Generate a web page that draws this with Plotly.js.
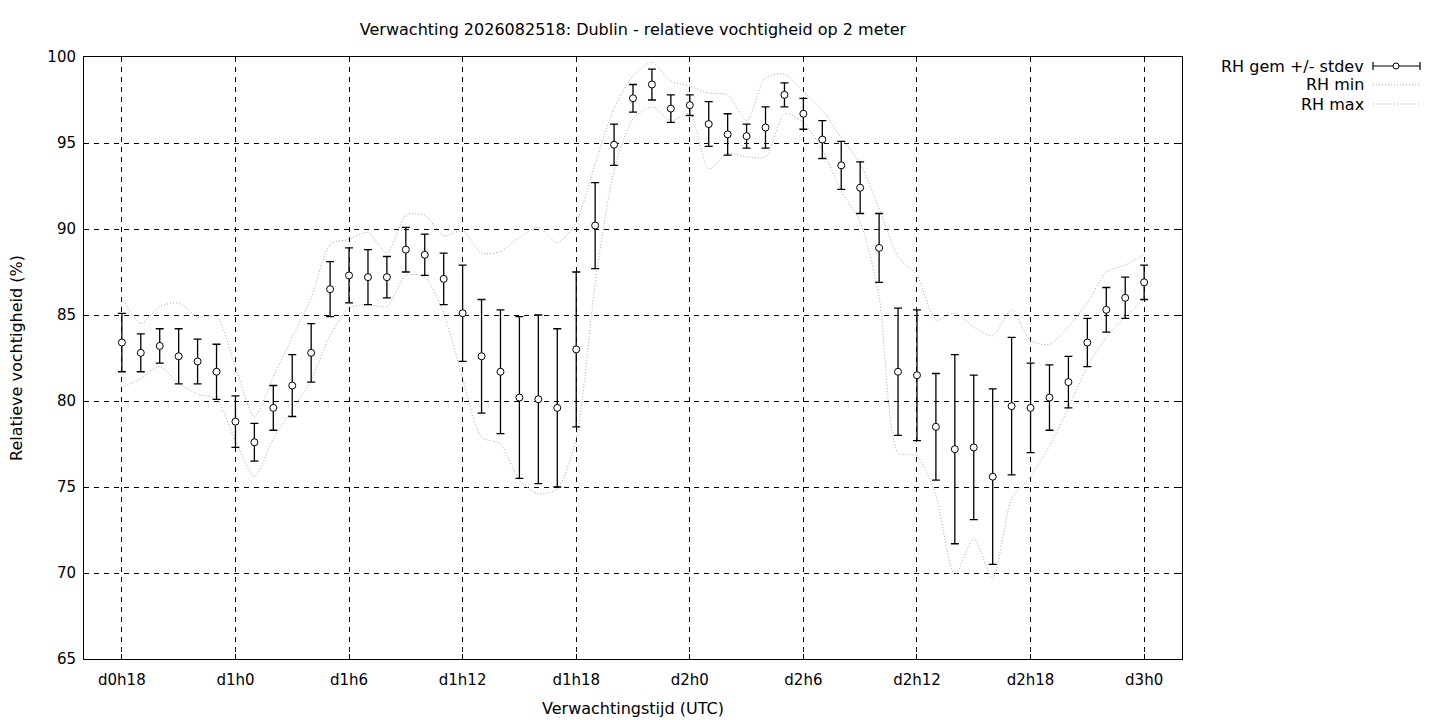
<!DOCTYPE html>
<html>
<head>
<meta charset="utf-8">
<script src="https://cdn.plot.ly/plotly-3.0.1.min.js"></script>
<style>
  html, body { margin: 0; padding: 0; background: #fff; }
  #chart { width: 1440px; height: 720px; }
</style>
</head>
<body>
<div id="chart"></div>
<script>
// forecast hours since d0h0
var hours = [];
for (var h = 18; h <= 72; h++) hours.push(h);

var tickHours = [18, 24, 30, 36, 42, 48, 54, 60, 66, 72];
var tickLabels = ["d0h18", "d1h0", "d1h6", "d1h12", "d1h18", "d2h0", "d2h6", "d2h12", "d2h18", "d3h0"];

// mean relative humidity (%)
var rhMean = [83.4, 82.8, 83.2, 82.6, 82.3, 81.7, 78.8, 77.6, 79.6, 80.9,
  82.8, 86.5, 87.3, 87.2, 87.2, 88.8, 88.5, 87.1, 85.1, 82.6,
  81.7, 80.2, 80.1, 79.6, 83.0, 90.2, 94.9, 97.6, 98.4, 97.0,
  97.2, 96.1, 95.5, 95.4, 95.9, 97.8, 96.7, 95.2, 93.7, 92.4,
  88.9, 81.7, 81.5, 78.5, 77.2, 77.3, 75.6, 79.7, 79.6, 80.2,
  81.1, 83.4, 85.3, 86.0, 86.9];

// standard deviation
var rhStdev = [1.7, 1.1, 1.0, 1.6, 1.3, 1.6, 1.5, 1.1, 1.3, 1.8,
  1.7, 1.6, 1.6, 1.6, 1.2, 1.3, 1.2, 1.5, 2.8, 3.3,
  3.6, 4.7, 4.9, 4.6, 4.5, 2.5, 1.2, 0.8, 0.9, 0.8,
  0.6, 1.3, 1.2, 0.7, 1.2, 0.7, 0.9, 1.1, 1.4, 1.5,
  2.0, 3.7, 3.8, 3.1, 5.5, 4.2, 5.1, 4.0, 2.6, 1.9,
  1.5, 1.4, 1.3, 1.2, 1.0];

var rhMin = [80.8, 81.3, 82.0, 81.0, 80.4, 80.1, 77.7, 75.6, 77.8, 79.5,
  81.2, 83.8, 85.4, 85.6, 85.5, 87.3, 87.2, 85.1, 81.3, 77.9,
  77.5, 75.4, 74.6, 74.9, 77.8, 86.8, 93.4, 96.4, 97.1, 96.3,
  96.7, 93.5, 94.4, 94.2, 94.2, 96.7, 96.2, 94.6, 92.2, 90.4,
  86.1, 77.0, 76.8, 74.5, 69.9, 72.0, 69.7, 74.3, 75.6, 77.4,
  79.6, 82.0, 83.7, 84.9, 85.9];

var rhMax = [86.0, 84.5, 85.5, 85.7, 84.9, 84.9, 82.0, 79.1, 81.4, 83.7,
  86.0, 89.1, 89.4, 89.8, 88.6, 90.8, 90.8, 89.6, 89.9, 88.6,
  88.7, 89.5, 90.1, 89.2, 90.4, 93.8, 97.0, 98.9, 99.7, 98.6,
  98.3, 97.9, 97.8, 96.3, 98.8, 99.0, 98.0, 96.9, 95.3, 93.8,
  91.2, 88.4, 87.3, 84.7, 85.1, 84.3, 83.8, 85.3, 83.5, 83.3,
  84.3, 85.7, 87.5, 87.9, 88.5];

var font = "DejaVu Sans, Liberation Sans, sans-serif";
var fs = 15;   // tick labels
var fsT = 16;  // titles and legend
var dotGray = "#a8a8a8";

var traces = [
  {
    type: "scatter", mode: "lines", name: "RH min",
    x: hours, y: rhMin,
    line: {color: dotGray, width: 1, dash: "1px,2px", shape: "spline", smoothing: 0.7},
    hoverinfo: "skip"
  },
  {
    type: "scatter", mode: "lines", name: "RH max",
    x: hours, y: rhMax,
    line: {color: dotGray, width: 1, dash: "1px,2px", shape: "spline", smoothing: 0.7},
    hoverinfo: "skip"
  },
  {
    type: "scatter", mode: "markers", name: "RH gem +/- stdev",
    x: hours, y: rhMean,
    error_y: {type: "data", array: rhStdev, visible: true, color: "#000", thickness: 1.3, width: 4},
    marker: {symbol: "circle", size: 7, color: "#fff", line: {color: "#000", width: 1}}
  }
];

// legend drawn gnuplot style: text right-aligned, sample to the right of it
function px(x) { return (x - 84) / 1098; }
function py(y) { return (659 - y) / 602; }

var legendRows = [
  {text: "RH gem +/- stdev", y: 66},
  {text: "RH min", y: 85},
  {text: "RH max", y: 104}
];

var annotations = legendRows.map(function (r) {
  return {
    xref: "paper", yref: "paper", x: px(1366), y: py(r.y),
    xanchor: "right", yanchor: "middle", showarrow: false,
    text: r.text, font: {family: font, size: fsT, color: "#000"}
  };
});

var shapes = [
  {type: "line", xref: "paper", yref: "paper", x0: px(1373), x1: px(1420), y0: py(66), y1: py(66), line: {color: "#000", width: 1.2}},
  {type: "line", xref: "paper", yref: "paper", x0: px(1373), x1: px(1373), y0: py(62), y1: py(70), line: {color: "#000", width: 1.2}},
  {type: "line", xref: "paper", yref: "paper", x0: px(1420), x1: px(1420), y0: py(62), y1: py(70), line: {color: "#000", width: 1.2}},
  {type: "circle", xref: "paper", yref: "paper", xsizemode: "pixel", ysizemode: "pixel",
    xanchor: px(1396), yanchor: py(66), x0: -3, x1: 3, y0: -3, y1: 3,
    fillcolor: "#fff", line: {color: "#000", width: 1}},
  {type: "line", xref: "paper", yref: "paper", x0: px(1373), x1: px(1420), y0: py(85), y1: py(85), line: {color: dotGray, width: 1, dash: "1px,2px"}},
  {type: "line", xref: "paper", yref: "paper", x0: px(1373), x1: px(1420), y0: py(104), y1: py(104), line: {color: dotGray, width: 1, dash: "1px,2px"}}
];

var layout = {
  width: 1440, height: 720,
  paper_bgcolor: "#fff", plot_bgcolor: "#fff",
  margin: {l: 84, r: 258, t: 57, b: 61, pad: 0},
  showlegend: false,
  font: {family: font, size: fs, color: "#000"},
  title: {
    text: "Verwachting 2026082518: Dublin - relatieve vochtigheid op 2 meter",
    x: 633 / 1440, xanchor: "center", y: 1 - 29 / 720, yanchor: "middle",
    font: {family: font, size: fsT, color: "#000"}
  },
  xaxis: {
    range: [16, 74],
    tickvals: tickHours, ticktext: tickLabels,
    showgrid: true, gridcolor: "#000", gridwidth: 1, griddash: "5px,5px",
    zeroline: false,
    showline: true, linecolor: "#000", linewidth: 1, mirror: "ticks",
    ticks: "inside", ticklen: 5, tickcolor: "#000",
    ticklabelstandoff: 7,
    tickfont: {family: font, size: fs},
    title: {text: "Verwachtingstijd (UTC)", font: {family: font, size: fsT}, standoff: 14}
  },
  yaxis: {
    range: [65, 100], dtick: 5, tick0: 65,
    showgrid: true, gridcolor: "#000", gridwidth: 1, griddash: "5px,5px",
    zeroline: false,
    showline: true, linecolor: "#000", linewidth: 1, mirror: "ticks",
    ticks: "inside", ticklen: 5, tickcolor: "#000",
    ticklabelstandoff: 4,
    tickfont: {family: font, size: fs},
    title: {text: "Relatieve vochtigheid (%)", font: {family: font, size: fsT}, standoff: 20}
  },
  annotations: annotations,
  shapes: shapes
};

Plotly.newPlot("chart", traces, layout, {displayModeBar: false, staticPlot: true});
</script>
</body>
</html>
